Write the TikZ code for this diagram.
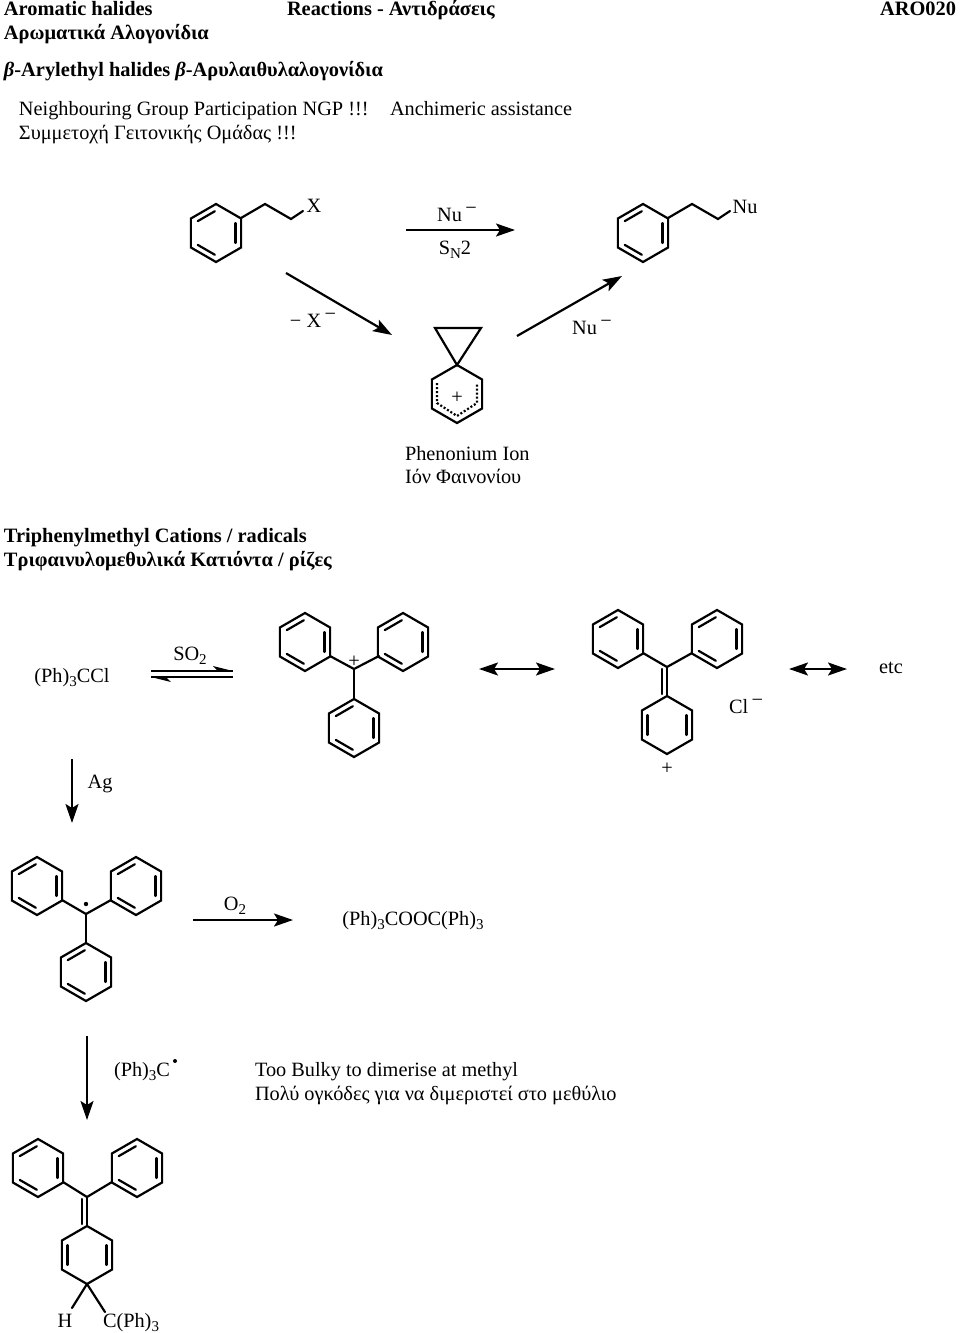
\documentclass[tikz,border=0pt]{standalone}
\usepackage{fontspec}
\setmainfont{Liberation Serif}
\usetikzlibrary{arrows.meta}
\newcommand{\supminus}{\,\raisebox{7pt}{−}}
\newcommand{\lowsub}[1]{\raisebox{-4pt}{\fontsize{15}{15}\selectfont #1}}
% ring at (x,y), double bonds at the given mid angles
\newcommand{\ringat}[3]{%
    \begin{scope}[shift={(#1,#2)}]
        \draw[bond] (30:29) -- (90:29) -- (150:29) -- (210:29) -- (270:29) -- (330:29) -- cycle;
        \foreach \midang in {#3} {
            \draw[bond] (\midang-27:21.8) -- (\midang+27:21.8);
        }
    \end{scope}}

\begin{document}
\begin{tikzpicture}[
    x=1pt, y=-1pt,
    bond/.style={line width=2.2pt, line cap=round, line join=miter},
    rxn/.style={line width=2.2pt, -{Stealth[length=19pt,width=13pt,inset=4pt]}},
    rxnboth/.style={line width=2.2pt, {Stealth[length=19pt,width=13pt,inset=4pt]}-{Stealth[length=19pt,width=13pt,inset=4pt]}},
    every node/.style={font=\fontsize{20.3}{24}\selectfont, inner sep=0pt, outer sep=0pt},
    head/.style={anchor=base west, font=\fontsize{20.4}{24}\selectfont\bfseries},
    txt/.style={anchor=base west},
    lab/.style={anchor=base}
]
\useasboundingbox (0,0) rectangle (960,1333);
\fill[white] (0,0) rectangle (960,1333);

% headings
\node[head] (titleen) at (4,15) {Aromatic halides};
\node[head] (titleel) at (4,39) {Αρωματικά Αλογονίδια};
\node[head] (react) at (287,15) {Reactions - Αντιδράσεις};
\node[head, anchor=base east] (code) at (956,15) {ARO020};
\node[head] (arylethyl) at (4,76) {\textit{β}-Arylethyl halides \textit{β}-Αρυλαιθυλαλογονίδια};
\node[txt] (ngpen) at (19,115) {Neighbouring Group Participation NGP !!!};
\node[txt] (anchi) at (390,115) {Anchimeric assistance};
\node[txt] (ngpel) at (19,139) {Συμμετοχή Γειτονικής Ομάδας !!!};

% phenethyl X and Nu
\ringat{216}{233}{0,120,240}
\draw[bond] (241,218) -- (265,204) -- (291,219) -- (303,211);
\node[lab] (xgroup) at (314,212) {X};
\ringat{643}{233}{0,120,240}
\draw[bond] (668,218) -- (692,204) -- (718,219) -- (730,211);
\node[lab] (nugroup) at (745,213) {Nu};

% direct substitution
\coordinate (snfrom) at (406,230);
\coordinate (snto) at (515,230);
\draw[rxn] (snfrom) -- (snto);
\node[lab] (nutop) at (457,221) {Nu\supminus};
\node[lab] (sntwo) at (455,254) {S\lowsub{N}2};

% via the ion
\coordinate (lossfrom) at (286,273);
\coordinate (lossto) at (392,335);
\draw[rxn] (lossfrom) -- (lossto);
\node[lab] (xloss) at (313,327) {− X\supminus};
\coordinate (openfrom) at (517,336);
\coordinate (opento) at (622,276);
\draw[rxn] (openfrom) -- (opento);
\node[lab] (nuopen) at (592,334) {Nu\supminus};

% phenonium ion
\draw[bond] (457,365) -- (435,328) -- (481,328) -- cycle;
\begin{scope}[shift={(457,394)}]
    \draw[bond] (30:29) -- (90:29) -- (150:29) -- (210:29) -- (270:29) -- (330:29) -- cycle;
    \draw[line width=2.2pt, dash pattern=on 2pt off 2pt] (-20,-11) -- (-20,9) -- (0,22) -- (20,9) -- (20,-11);
\end{scope}
\node[lab] (ionplus) at (457,403) {+};
\node[txt] (ionen) at (405,460) {Phenonium Ion};
\node[txt] (ionel) at (405,483) {Ιόν Φαινονίου};

% trityl
\node[head] (trityl) at (4,542) {Triphenylmethyl Cations / radicals};
\node[head] (tritylel) at (4,566) {Τριφαινυλομεθυλικά Κατιόντα / ρίζες};
\node[lab] (chloride) at (72,682) {(Ph)\lowsub{3}CCl};
\node[lab] (sulfur) at (190,660) {SO\lowsub{2}};
\coordinate (eqa) at (151,671);
\coordinate (eqb) at (233,671);
\coordinate (eqc) at (233,677);
\coordinate (eqd) at (151,677);
\draw[line width=2pt] (eqa) -- (eqb);
\fill (eqb) -- (213,666) -- (218,671) -- cycle;
\draw[line width=2pt] (eqc) -- (eqd);
\fill (eqd) -- (171,682) -- (166,677) -- cycle;

% cation
\ringat{305}{642}{0,120,240}
\ringat{403}{642}{0,120,240}
\ringat{354}{728}{0,120,240}
\draw[bond] (330,656) -- (354,669) -- (379,656);
\draw[bond] (354,669) -- (354,699);
\node[lab] (catplus) at (354,667) {+};
\coordinate (resa) at (479,669);
\coordinate (resb) at (555,669);
\draw[rxnboth] (resa) -- (resb);

% quinoid form
\ringat{618}{639}{0,120,240}
\ringat{717}{639}{0,120,240}
\ringat{667}{725}{0,180}
\draw[bond] (643,653) -- (667,667) -- (692,653);
\draw[bond] (667,667) -- (667,696);
\draw[bond] (662,669) -- (662,694);
\node[lab] (quinplus) at (667,774) {+};
\node[lab] (clion) at (746,713) {Cl\supminus};
\coordinate (resc) at (789,669);
\coordinate (resd) at (847,669);
\draw[rxnboth] (resc) -- (resd);
\node[lab] (etc) at (891,673) {etc};

% silver
\coordinate (agfrom) at (72,759);
\coordinate (agto) at (72,823);
\draw[rxn] (agfrom) -- (agto);
\node[lab] (ag) at (100,788) {Ag};

% radical
\ringat{37}{886}{0,120,240}
\ringat{136}{886}{0,120,240}
\ringat{86}{972}{0,120,240}
\draw[bond] (62,900) -- (86,914) -- (111,900);
\draw[bond] (86,914) -- (86,943);
\fill (86,904) circle (2.2pt);
\coordinate (oxfrom) at (193,920);
\coordinate (oxto) at (293,920);
\draw[rxn] (oxfrom) -- (oxto);
\node[lab] (oxygen) at (235,910) {O\lowsub{2}};
\node[lab] (peroxide) at (413,925) {(Ph)\lowsub{3}COOC(Ph)\lowsub{3}};

% dimer
\coordinate (dimfrom) at (87,1036);
\coordinate (dimto) at (87,1120);
\draw[rxn] (dimfrom) -- (dimto);
\node[txt] (tritylrad) at (114,1076) {(Ph)\lowsub{3}C};
\fill (175,1061) circle (2pt);
\node[txt] (bulkyen) at (255,1076) {Too Bulky to dimerise at methyl};
\node[txt] (bulkyel) at (255,1100) {Πολύ ογκόδες για να διμεριστεί στο μεθύλιο};
\ringat{38}{1168}{0,120,240}
\ringat{137}{1168}{0,120,240}
\ringat{87}{1255}{0,180}
\draw[bond] (63,1182) -- (87,1197) -- (112,1182);
\draw[bond] (87,1197) -- (87,1226);
\draw[bond] (82,1199) -- (82,1224);
\node[lab] (hatom) at (65,1327) {H};
\node[txt] (dimerc) at (103,1327) {C(Ph)\lowsub{3}};
\draw[bond] (87,1284) -- (72,1308);
\draw[bond] (87,1284) -- (105,1312);
\end{tikzpicture}
\end{document}
